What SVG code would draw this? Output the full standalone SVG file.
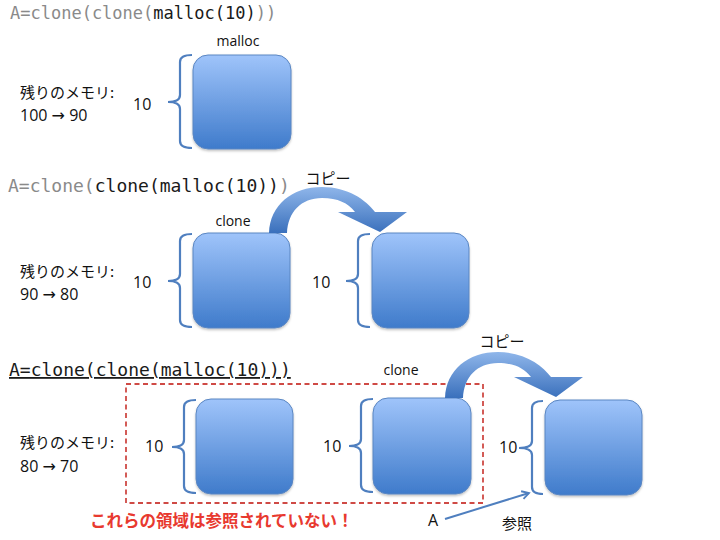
<svg xmlns="http://www.w3.org/2000/svg" width="720" height="540" viewBox="0 0 720 540">
<style>
.code{font-family:"DejaVu Sans Mono","Liberation Mono",monospace;}
.g{fill:#8a8a8a;}
.k{fill:#1a1a1a;}
.jp{font-family:"Noto Sans CJK JP","Noto Sans",sans-serif;font-size:15px;fill:#111;}
.lat{font-family:"Open Sans","Liberation Sans",sans-serif;font-size:16px;fill:#111;}
.arw{font-family:"DejaVu Sans",sans-serif;}
.lbl{font-family:"Open Sans","Liberation Sans",sans-serif;font-size:14px;fill:#111;}
.box{fill:url(#boxg);stroke:#5a86c2;stroke-width:1;filter:url(#sh);}
.brace{fill:none;stroke:#4f7fbf;stroke-width:2.2;}
.red{font-family:"Noto Sans CJK JP",sans-serif;font-size:16.5px;font-weight:bold;fill:#e8392f;}
</style>
<defs>
<linearGradient id="boxg" x1="0" y1="0" x2="0" y2="1">
<stop offset="0" stop-color="#9fc4fa"/>
<stop offset="1" stop-color="#3f7bcb"/>
</linearGradient>
<linearGradient id="arrg" x1="0" y1="0" x2="0" y2="1">
<stop offset="0" stop-color="#8fb6ea"/>
<stop offset="1" stop-color="#3a70bc"/>
</linearGradient>
<filter id="sh" x="-10%" y="-10%" width="130%" height="130%">
<feDropShadow dx="0" dy="1.5" stdDeviation="1.2" flood-color="#000" flood-opacity="0.25"/>
</filter>
<path id="br" d="M12,0 Q0,0 0,7 L0,40 Q0,47 -12,47 Q0,47 0,54 L0,86 Q0,93 12,93"/>
<path id="carr" d="M269,233 C270,205 292,187 322,187 C348,187 366,200 375,212 L407,212 L380,232 L338,212 L355,212 C348,203 338,198 322,198 C301,198 288,212 287,233 Z"/>
<marker id="ah" markerWidth="10" markerHeight="10" refX="8" refY="5" orient="auto" markerUnits="userSpaceOnUse">
<path d="M1,1 L8,5 L1,9" fill="none" stroke="#4f7fbf" stroke-width="1.8"/>
</marker>
</defs>
<rect width="720" height="540" fill="#fff"/>

<!-- code headers -->
<text class="code" x="10" y="19" font-size="17"><tspan class="g">A=clone(clone(</tspan><tspan class="k">malloc(10)</tspan><tspan class="g">))</tspan></text>
<text class="code" x="8" y="192" font-size="18"><tspan class="g">A=clone(</tspan><tspan class="k">clone(malloc(10))</tspan><tspan class="g">)</tspan></text>
<text class="code k" x="9" y="376" font-size="18" text-decoration="underline">A=clone(clone(malloc(10)))</text>

<!-- row 1 -->
<g id="row1-info">
<text class="jp" x="20" y="98">残りのメモリ:</text>
<text class="lat" x="20" y="121">100 <tspan class="arw">→</tspan> 90</text>
</g>
<g id="r1-malloc">
<text class="lbl" x="238" y="46" text-anchor="middle">malloc</text>
<use href="#br" class="brace" transform="translate(180,55)"/>
<text class="lat" x="133" y="110">10</text>
<rect class="box" x="193" y="55" width="98" height="94" rx="15"/>
</g>

<!-- row 2 -->
<g id="row2-info">
<text class="jp" x="20" y="277">残りのメモリ:</text>
<text class="lat" x="20" y="300">90 <tspan class="arw">→</tspan> 80</text>
</g>
<g id="r2-clone">
<text class="lbl" x="233" y="226" text-anchor="middle">clone</text>
<use href="#br" class="brace" transform="translate(180,234)"/>
<text class="lat" x="133" y="288">10</text>
<rect class="box" x="193" y="233" width="97" height="95" rx="15"/>
</g>
<g id="r2-copy">
<use href="#br" class="brace" transform="translate(358,234)"/>
<text class="lat" x="312" y="288">10</text>
<rect class="box" x="372" y="233" width="97" height="95" rx="15"/>
</g>

<!-- row 3 -->
<g id="row3-info">
<text class="jp" x="20" y="448">残りのメモリ:</text>
<text class="lat" x="20" y="472">80 <tspan class="arw">→</tspan> 70</text>
</g>
<g id="r3-malloc">
<use href="#br" class="brace" transform="translate(184,400)"/>
<text class="lat" x="145" y="452">10</text>
<rect class="box" x="196" y="399" width="97" height="95" rx="15"/>
</g>
<g id="r3-clone">
<text class="lbl" x="401" y="375" text-anchor="middle">clone</text>
<use href="#br" class="brace" transform="translate(361,399)"/>
<text class="lat" x="323" y="452">10</text>
<rect class="box" x="373" y="398" width="98" height="96" rx="15"/>
</g>
<g id="r3-copy">
<path class="brace" d="M543,401 Q532,401 532,408 L532,441 Q532,448 519,448 Q532,448 532,455 L532,487 Q532,494 543,494"/>
<text class="lat" x="499" y="453">10</text>
<rect class="box" x="545" y="400" width="97" height="95" rx="15"/>
</g>

<g id="unreferenced">
<rect x="126" y="384" width="357" height="119" fill="none" stroke="#cf4a45" stroke-width="1.8" stroke-dasharray="5,3.5"/>
<text class="red" x="90" y="527">これらの領域は参照されていない！</text>
</g>

<g id="var-A">
<text class="lat" x="428" y="526">A</text>
<text class="jp" x="502" y="529" font-size="16">参照</text>
</g>

<!-- connectors -->
<g id="connectors">
<use href="#carr" fill="url(#arrg)"/>
<text class="jp" x="328" y="184" text-anchor="middle" font-size="14">コピー</text>
<use href="#carr" fill="url(#arrg)" transform="translate(176,165)"/>
<text class="jp" x="502" y="347" text-anchor="middle" font-size="14">コピー</text>
<line x1="445" y1="519" x2="529" y2="493" stroke="#4f7fbf" stroke-width="2" marker-end="url(#ah)"/>
</g>
</svg>
